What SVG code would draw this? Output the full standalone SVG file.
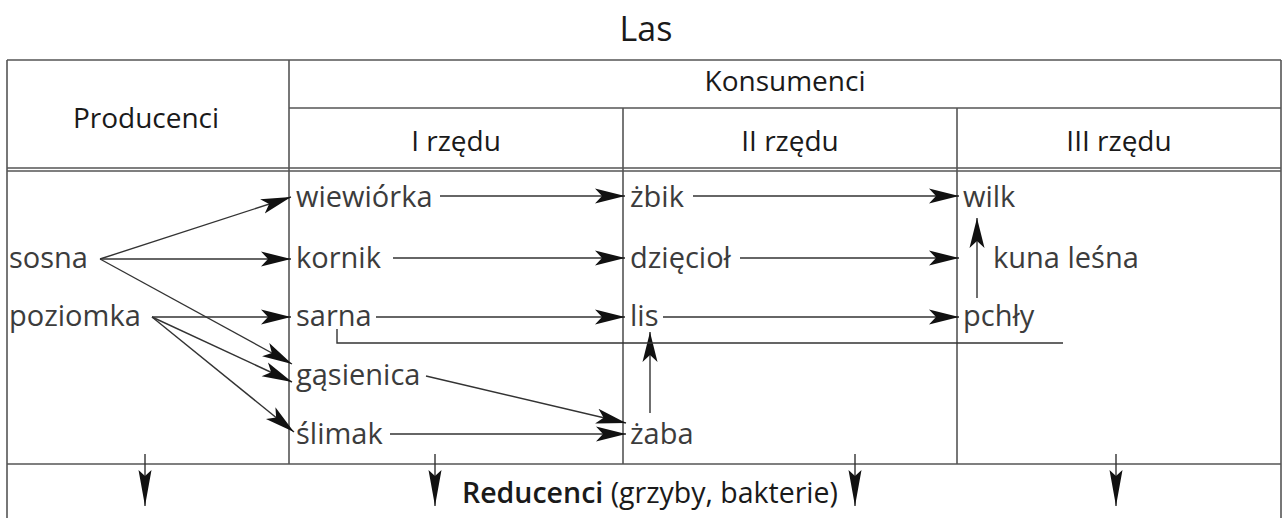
<svg xmlns="http://www.w3.org/2000/svg" width="1283" height="518" viewBox="0 0 1283 518">
<style>
.grid{stroke:#555;stroke-width:1.6;fill:none}
.hd{font-family:"Open Sans","Liberation Sans",sans-serif;font-size:28px;fill:#1a1a1a;text-anchor:middle}
.t{font-family:"Open Sans","Liberation Sans",sans-serif;font-size:29px;fill:#3c3c3c}
.c{stroke:#333;stroke-width:1.4;fill:none}
.ca{stroke:#333;stroke-width:1.4;fill:none;marker-end:url(#ah)}
.cv{stroke:#333;stroke-width:1.4;fill:none;marker-end:url(#av)}
</style>
<defs>
<marker id="ah" markerUnits="userSpaceOnUse" markerWidth="32" markerHeight="18" viewBox="0 0 32 18" refX="30" refY="9" orient="auto">
<path d="M0,1.5 L30,9 L0,16.5 L7,9 Z" fill="#111"/>
</marker>
<marker id="av" markerUnits="userSpaceOnUse" markerWidth="38" markerHeight="18" viewBox="0 0 38 18" refX="36" refY="9" orient="auto">
<path d="M0,2.5 L36,9 L0,15.5 L6,9 Z" fill="#111"/>
</marker>
</defs>
<rect width="1283" height="518" fill="#fff"/>
<g id="title"><text class="hd" x="646" y="41" style="font-size:34px">Las</text></g>
<g id="table">
<line class="grid" x1="7" y1="60" x2="1281" y2="60"/>
<line class="grid" x1="289" y1="108" x2="1281" y2="108"/>
<line class="grid" x1="7" y1="168" x2="1281" y2="168"/>
<line class="grid" x1="7" y1="171" x2="1281" y2="171"/>
<line class="grid" x1="7" y1="464" x2="1281" y2="464"/>
<line class="grid" x1="7" y1="60" x2="7" y2="518"/>
<line class="grid" x1="1281" y1="60" x2="1281" y2="518"/>
<line class="grid" x1="289" y1="60" x2="289" y2="464"/>
<line class="grid" x1="623" y1="108" x2="623" y2="464"/>
<line class="grid" x1="957" y1="108" x2="957" y2="464"/>
</g>
<g id="headers">
<text class="hd" x="146" y="128">Producenci</text>
<text class="hd" x="785" y="91">Konsumenci</text>
<text class="hd" x="456" y="151">I rzędu</text>
<text class="hd" x="790" y="151">II rzędu</text>
<text class="hd" x="1119" y="151">III rzędu</text>
</g>
<g id="n-sosna"><text class="t" x="9" y="268">sosna</text></g>
<g id="n-poziomka"><text class="t" x="9" y="326">poziomka</text></g>
<g id="n-wiewiorka"><text class="t" x="296" y="207">wiewiórka</text></g>
<g id="n-kornik"><text class="t" x="296" y="268">kornik</text></g>
<g id="n-sarna"><text class="t" x="296" y="326">sarna</text></g>
<g id="n-gasienica"><text class="t" x="296" y="385">gąsienica</text></g>
<g id="n-slimak"><text class="t" x="296" y="444">ślimak</text></g>
<g id="n-zbik"><text class="t" x="630" y="207">żbik</text></g>
<g id="n-dzieciol"><text class="t" x="630" y="268">dzięcioł</text></g>
<g id="n-lis"><text class="t" x="630" y="326">lis</text></g>
<g id="n-zaba"><text class="t" x="630" y="444">żaba</text></g>
<g id="n-wilk"><text class="t" x="963" y="207">wilk</text></g>
<g id="n-kuna"><text class="t" x="993" y="268">kuna leśna</text></g>
<g id="n-pchly"><text class="t" x="963" y="326">pchły</text></g>
<g id="n-reducenci"><text class="t" x="462" y="503" style="font-size:28.5px;fill:#1a1a1a"><tspan font-weight="600">Reducenci</tspan> (grzyby, bakterie)</text></g>
<g id="connectors">
<line class="ca" x1="100" y1="259" x2="291" y2="197"/>
<line class="ca" x1="100" y1="259" x2="291" y2="259"/>
<line class="ca" x1="100" y1="259" x2="292" y2="364"/>
<line class="ca" x1="152" y1="317" x2="291" y2="317"/>
<line class="ca" x1="152" y1="317" x2="292" y2="382"/>
<line class="ca" x1="152" y1="317" x2="294" y2="432"/>
<line class="ca" x1="440" y1="196" x2="625" y2="196"/>
<line class="ca" x1="393" y1="258" x2="625" y2="258"/>
<line class="ca" x1="376" y1="317" x2="625" y2="317"/>
<line class="ca" x1="426" y1="376" x2="626" y2="423"/>
<line class="ca" x1="390" y1="434" x2="626" y2="434"/>
<line class="ca" x1="693" y1="196" x2="959" y2="196"/>
<line class="ca" x1="740" y1="258" x2="959" y2="258"/>
<line class="ca" x1="663" y1="317" x2="959" y2="317"/>
<line class="ca" x1="650" y1="413" x2="650" y2="332"/>
<line class="ca" x1="977" y1="298" x2="977" y2="218"/>
<polyline class="c" points="337,329 337,343 1063,343"/>
<line class="cv" x1="145" y1="454" x2="145" y2="506"/>
<line class="cv" x1="435" y1="454" x2="435" y2="506"/>
<line class="cv" x1="855" y1="454" x2="855" y2="506"/>
<line class="cv" x1="1116" y1="454" x2="1116" y2="506"/>
</g>
</svg>
